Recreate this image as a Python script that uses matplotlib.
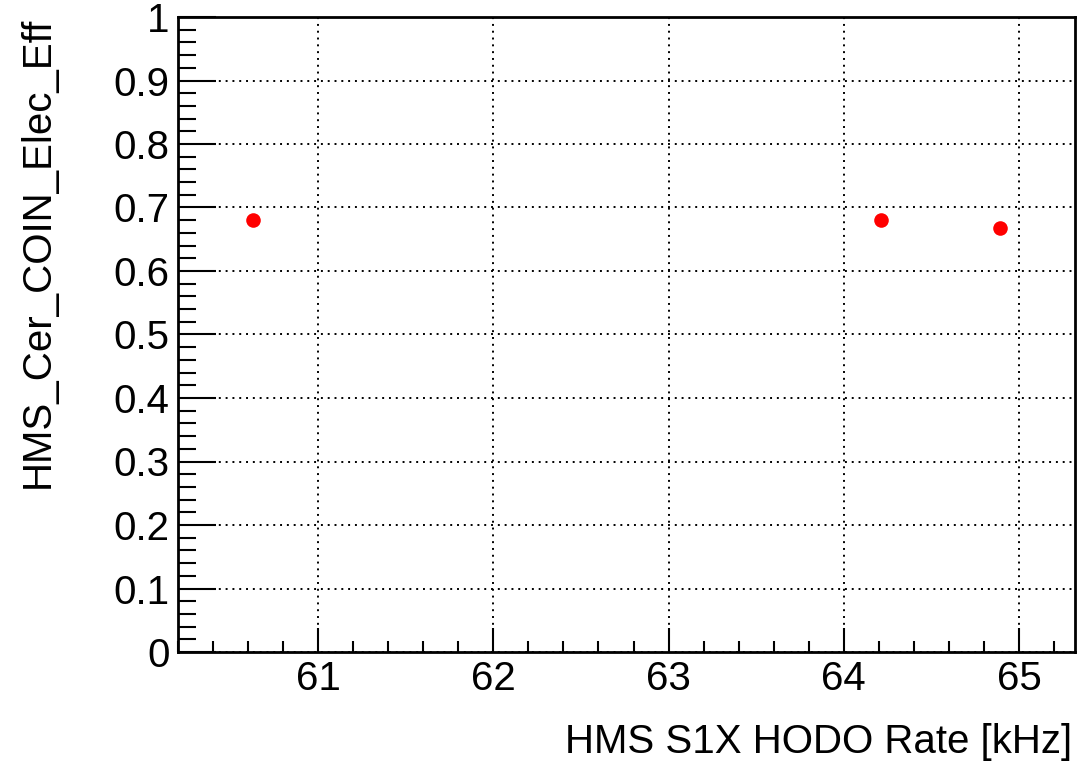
import matplotlib.pyplot as plt
from matplotlib.ticker import MultipleLocator, FuncFormatter

rate_khz = [60.63, 64.21, 64.89]
cer_eff = [0.680, 0.680, 0.667]

plt.rcParams["font.family"] = ["Liberation Sans", "DejaVu Sans"]

fig = plt.figure(figsize=(10.79, 7.72), dpi=100, facecolor="white")
ax = fig.add_axes([178 / 1079, 1 - 652 / 772, (1075 - 178) / 1079, (652 - 17) / 772])

ax.plot(rate_khz, cer_eff, "o", color="#ff0000", markersize=10.5, markeredgewidth=0)

ax.set_xlim(60.2, 65.32)
ax.set_ylim(0, 1)

ax.xaxis.set_major_locator(MultipleLocator(1))
ax.xaxis.set_minor_locator(MultipleLocator(0.2))
ax.yaxis.set_major_locator(MultipleLocator(0.1))
ax.yaxis.set_minor_locator(MultipleLocator(0.02))
ax.yaxis.set_major_formatter(FuncFormatter(lambda v, p: f"{v:g}"))
ax.xaxis.set_major_formatter(FuncFormatter(lambda v, p: f"{v:g}"))

ax.grid(True, which="major", color="black", linestyle=(0, (1, 2.5)), linewidth=1.4)

ax.tick_params(axis="both", which="both", direction="in", top=False, right=False, width=1.5, colors="black")
ax.tick_params(axis="x", which="major", length=17, labelsize=29, pad=6)
ax.tick_params(axis="x", which="minor", length=8)
ax.tick_params(axis="y", which="major", length=27, labelsize=29, pad=6)
ax.tick_params(axis="y", which="minor", length=13)

for s in ax.spines.values():
    s.set_linewidth(2)
    s.set_color("black")

fig.text(1072 / 1079, 1 - 742 / 772, "HMS S1X HODO Rate [kHz]", ha="right", va="center", fontsize=29)
fig.text(38 / 1079, 1 - 17 / 772, "HMS_Cer_COIN_Elec_Eff", ha="center", va="top", rotation=90, fontsize=29)

fig.savefig("out.png", dpi=100, facecolor="white")
